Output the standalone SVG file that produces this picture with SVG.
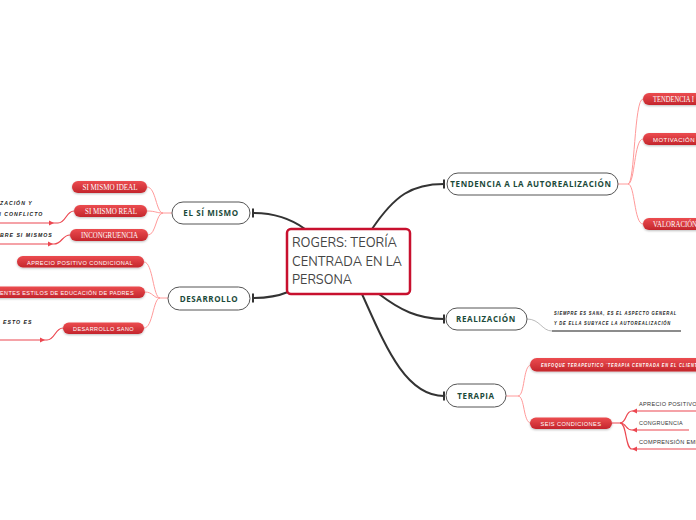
<svg xmlns="http://www.w3.org/2000/svg" width="696" height="520" viewBox="0 0 696 520">
<defs>
<linearGradient id="rg" x1="0" y1="0" x2="0" y2="1">
<stop offset="0" stop-color="#ec4c50"/>
<stop offset="1" stop-color="#c4262c"/>
</linearGradient>
<filter id="sh" x="-10%" y="-30%" width="120%" height="180%">
<feDropShadow dx="0" dy="1" stdDeviation="0.8" flood-color="#000" flood-opacity="0.25"/>
</filter>
<marker id="ar" viewBox="0 0 6 6" refX="3" refY="3" markerWidth="5" markerHeight="5" orient="auto">
<path d="M0,0.5 L6,3 L0,5.5 Z" fill="#e8404a"/>
</marker>
</defs>
<style>
.main{fill:none;stroke:#333;stroke-width:2}
.bar{stroke:#333;stroke-width:2}
.br{fill:none;stroke:#ff9a9a;stroke-width:1}
.nl{fill:none;stroke:#ec4750;stroke-width:1.2}
.node{fill:#fff;stroke:#555;stroke-width:1}
.nt{font-family:"Open Sans","Liberation Sans",sans-serif;font-weight:bold;font-size:8px;fill:#1b4a3a;letter-spacing:0.6px}
.pill{fill:url(#rg);filter:url(#sh)}
.ps{font-family:"Liberation Serif",serif;font-size:8px;fill:#fff}
.pa{font-family:"Liberation Sans",sans-serif;font-size:5.6px;fill:#fff;letter-spacing:0.4px}
.note{font-family:"Liberation Sans",sans-serif;font-style:italic;font-weight:bold;font-size:5.2px;fill:#222;letter-spacing:1px}
.lt{font-family:"Liberation Sans",sans-serif;font-size:5.6px;fill:#333;letter-spacing:0.3px}
</style>

<g id="connectors">
<path class="main" d="M305,229 C290,218 272,213 253,213"/>
<line class="bar" x1="253" y1="208.5" x2="253" y2="217.5"/>
<path class="main" d="M288,292 C276,297 266,298 253,298"/>
<line class="bar" x1="253" y1="293.5" x2="253" y2="302.5"/>
<path class="main" d="M372,229 C395,195 412,184 444,184"/>
<line class="bar" x1="444" y1="179.5" x2="444" y2="188.5"/>
<path class="main" d="M379,294 C400,310 418,319 444,319"/>
<line class="bar" x1="444" y1="314.5" x2="444" y2="323.5"/>
<path class="main" d="M362,294 C385,345 405,396 444,396"/>
<line class="bar" x1="444" y1="391.5" x2="444" y2="400.5"/>

<path class="br" d="M172,213 L163,213 C156,213 156,187 147,187"/>
<path class="br" d="M163,213 C156,213 156,211 147,211"/>
<path class="br" d="M163,213 C156,213 156,235 148,235"/>

<path class="br" d="M168,298 L160,298 C153,298 153,262 144,262"/>
<path class="br" d="M160,298 C153,298 153,292 145,292"/>
<path class="br" d="M160,298 C153,298 153,328 144,328"/>

<path class="br" d="M618,184 L628,184 C635,184 634,99 643,99"/>
<path class="br" d="M628,184 C635,184 634,139 643,139"/>
<path class="br" d="M628,184 C635,184 634,224 643,224"/>

<path class="br" d="M506,396 L518,396 C525,396 523,365 531,365"/>
<path class="br" d="M518,396 C525,396 523,423 531,423"/>

<path class="nl" d="M612,423 L620,423 C627,423 625,411 632,411 L700,411"/>
<path class="nl" d="M620,423 C627,423 625,430 632,430 L689,430"/>
<path class="nl" d="M620,423 C627,423 625,449 632,449 L700,449"/>
<path d="M637,408.5 L632,411 L637,413.5 Z" fill="#ec4750"/>
<path d="M637,427.5 L632,430 L637,432.5 Z" fill="#ec4750"/>
<path d="M637,446.5 L632,449 L637,451.5 Z" fill="#ec4750"/>

<path class="nl" d="M74,211 C66,211 66,223 58,223 L-2,223"/>
<path d="M49,220.5 L54,223 L49,225.5 Z" fill="#ec4750"/>
<path class="nl" d="M70,235 C62,235 62,244 54,244 L-2,244"/>
<path d="M48,241.5 L53,244 L48,246.5 Z" fill="#ec4750"/>
<path class="nl" d="M63,328 C55,328 55,340 47,340 L-2,340"/>
<path d="M40,337.5 L45,340 L40,342.5 Z" fill="#ec4750"/>

<path fill="none" stroke="#aaa" stroke-width="0.8" d="M527,319 C540,319 542,331 552,331"/>
<line x1="552" y1="331" x2="681" y2="331" stroke="#666" stroke-width="1.6"/>
</g>

<g id="central">
<rect x="287" y="229" width="123" height="65" rx="4" fill="#fff" stroke="#c8102e" stroke-width="2.5"/>
<g font-family="Nunito,'Liberation Sans',sans-serif" font-size="13" fill="#444">
<text x="292" y="247" textLength="105" lengthAdjust="spacingAndGlyphs">ROGERS: TEORÍA</text>
<text x="292" y="266" textLength="110" lengthAdjust="spacingAndGlyphs">CENTRADA EN LA</text>
<text x="292" y="284" textLength="60" lengthAdjust="spacingAndGlyphs">PERSONA</text>
</g>
</g>

<g id="el-si-mismo">
<rect class="node" x="172" y="202" width="78" height="22" rx="11"/>
<text class="nt" x="211" y="216" text-anchor="middle">EL SÍ MISMO</text>
</g>
<g id="desarrollo">
<rect class="node" x="168" y="287" width="82" height="23" rx="11.5"/>
<text class="nt" x="209" y="302" text-anchor="middle">DESARROLLO</text>
</g>
<g id="tendencia">
<rect class="node" x="447" y="173" width="171" height="22" rx="11"/>
<text class="nt" x="531" y="187" text-anchor="middle">TENDENCIA A LA AUTOREALIZACIÓN</text>
</g>
<g id="realizacion">
<rect class="node" x="446" y="308" width="81" height="22" rx="11"/>
<text class="nt" x="486" y="322" text-anchor="middle">REALIZACIÓN</text>
</g>
<g id="terapia">
<rect class="node" x="446" y="384" width="60" height="23" rx="11.5"/>
<text class="nt" x="476" y="399" text-anchor="middle">TERAPIA</text>
</g>

<g id="si-mismo-ideal">
<rect class="pill" x="72" y="181" width="75" height="12" rx="6"/>
<text class="ps" x="110" y="190" text-anchor="middle" textLength="55" lengthAdjust="spacingAndGlyphs">SI MISMO IDEAL</text>
</g>
<g id="si-mismo-real">
<rect class="pill" x="74" y="205" width="73" height="12" rx="6"/>
<text class="ps" x="111" y="214" text-anchor="middle" textLength="52" lengthAdjust="spacingAndGlyphs">SI MISMO REAL</text>
</g>
<g id="incongruencia">
<rect class="pill" x="70" y="229" width="78" height="12" rx="6"/>
<text class="ps" x="109.5" y="238" text-anchor="middle" textLength="57" lengthAdjust="spacingAndGlyphs">INCONGRUENCIA</text>
</g>
<g id="note-real">
<text class="note" x="0" y="205">ZACIÓN Y</text>
<text class="note" x="-3" y="216">N CONFLICTO</text>
</g>
<g id="note-incong">
<text class="note" x="0" y="237">BRE SI MISMOS</text>
</g>

<g id="aprecio-condicional">
<rect class="pill" x="17" y="256" width="127" height="11.5" rx="5.75"/>
<text class="pa" x="80" y="264.5" text-anchor="middle" textLength="106" lengthAdjust="spacingAndGlyphs">APRECIO POSITIVO CONDICIONAL</text>
</g>
<g id="estilos">
<rect class="pill" x="-10" y="286.5" width="155" height="11.5" rx="5.75"/>
<text class="pa" x="0" y="294.5" textLength="134" lengthAdjust="spacingAndGlyphs">ENTES ESTILOS DE EDUCACIÓN DE PADRES</text>
</g>
<g id="desarrollo-sano">
<rect class="pill" x="63" y="322.5" width="81" height="11.5" rx="5.75"/>
<text class="pa" x="103.5" y="330.5" text-anchor="middle" textLength="61" lengthAdjust="spacingAndGlyphs">DESARROLLO SANO</text>
</g>
<g id="note-sano">
<text class="note" x="3" y="324">ESTO ES</text>
</g>

<g id="tendencia-i">
<rect class="pill" x="643" y="93" width="70" height="12" rx="6"/>
<text class="ps" x="653" y="102" textLength="41" lengthAdjust="spacingAndGlyphs">TENDENCIA I</text>
</g>
<g id="motivacion">
<rect class="pill" x="643" y="133" width="70" height="12" rx="6"/>
<text class="pa" x="653" y="141.5" textLength="42" lengthAdjust="spacingAndGlyphs">MOTIVACIÓN</text>
</g>
<g id="valoracion">
<rect class="pill" x="643" y="218" width="70" height="12" rx="6"/>
<text class="ps" x="653" y="227" textLength="44" lengthAdjust="spacingAndGlyphs">VALORACIÓN</text>
</g>

<g id="note-realizacion">
<text class="note" x="554" y="315" textLength="123" lengthAdjust="spacingAndGlyphs">SIEMPRE ES SANA, ES EL ASPECTO GENERAL</text>
<text class="note" x="554" y="325" textLength="117" lengthAdjust="spacingAndGlyphs">Y DE ELLA SUBYACE LA AUTOREALIZACIÓN</text>
</g>

<g id="enfoque">
<rect class="pill" x="530" y="358" width="180" height="13.5" rx="6.75"/>
<text class="note" x="541" y="367" style="fill:#fff" textLength="160" lengthAdjust="spacingAndGlyphs">ENFOQUE TERAPEUTICO ¨TERAPIA CENTRADA EN EL CLIENTE</text>
</g>
<g id="seis-condiciones">
<rect class="pill" x="530" y="417.5" width="82" height="11.5" rx="5.75"/>
<text class="pa" x="571" y="425.5" text-anchor="middle" textLength="61" lengthAdjust="spacingAndGlyphs">SEIS CONDICIONES</text>
</g>
<g id="conditions">
<text class="lt" x="639" y="406">APRECIO POSITIVO INCONDICIONAL</text>
<text class="lt" x="639" y="425" textLength="44" lengthAdjust="spacingAndGlyphs">CONGRUENCIA</text>
<text class="lt" x="639" y="444">COMPRENSIÓN EMPÁTICA</text>
</g>
</svg>
